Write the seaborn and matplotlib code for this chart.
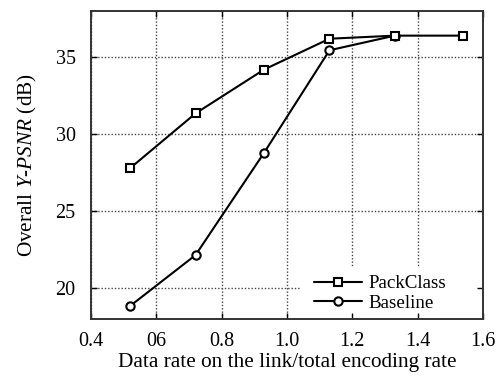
import matplotlib
matplotlib.use("Agg")
import matplotlib.pyplot as plt
from matplotlib.patches import Rectangle
import seaborn as sns
import pandas as pd

# Data
rates = [0.52, 0.72, 0.93, 1.13, 1.33, 1.54]
packclass = [27.8, 31.35, 34.2, 36.2, 36.4, 36.4]
baseline_rates = [0.52, 0.72, 0.93, 1.13, 1.33]
baseline = [18.85, 22.15, 28.8, 35.45, 36.4]
xticks = [0.4, 0.6, 0.8, 1.0, 1.2, 1.4, 1.6]
xticklabels = ["0.4", "06", "0.8", "1.0", "1.2", "1.4", "1.6"]
yticks = [20, 25, 30, 35]

sns.set_theme(style="white")
plt.rcParams["font.family"] = ["Liberation Serif", "DejaVu Serif"]
plt.rcParams["mathtext.fontset"] = "custom"
plt.rcParams["mathtext.rm"] = "Liberation Serif"
plt.rcParams["mathtext.it"] = "Liberation Serif:italic"
plt.rcParams["text.color"] = "black"
plt.rcParams["axes.labelcolor"] = "black"
plt.rcParams["xtick.color"] = "black"
plt.rcParams["ytick.color"] = "black"

W, H = 499, 381
L, R, T, B = 91, 483, 11, 319
pos = [L / W, 1 - B / H, (R - L) / W, (B - T) / H]

fig = plt.figure(figsize=(W / 100, H / 100), dpi=100)
ax = fig.add_axes(pos)
ax.set_axisbelow(True)

df_b = pd.DataFrame({"x": baseline_rates, "y": baseline})
df_p = pd.DataFrame({"x": rates, "y": packclass})

sns.lineplot(data=df_b, x="x", y="y", ax=ax, color="black", lw=1.5,
             marker="o", markersize=6, markerfacecolor="white",
             markeredgecolor="black", markeredgewidth=1.5, label="Baseline", zorder=3)
sns.lineplot(data=df_p, x="x", y="y", ax=ax, color="black", lw=1.5,
             marker="s", markersize=6, markerfacecolor="white",
             markeredgecolor="black", markeredgewidth=1.5, label="PackClass", zorder=4)

ax.set_xlim(0.4, 1.6)
ax.set_ylim(18, 38)
ax.set_xticks(xticks)
ax.set_xticklabels(xticklabels)
ax.set_yticks(yticks)
ax.grid(True, color="#444444", linestyle=(0, (1, 1.4)), linewidth=1.0)
ax.tick_params(length=0, labelsize=14.5)
ax.tick_params(axis="x", pad=9)
ax.tick_params(axis="y", pad=11)
for s in ax.spines.values():
    s.set_visible(False)

# white box behind the legend (covers grid there)
ax.add_patch(Rectangle(((300 - L) / (R - L), 0), 1 - (300 - L) / (R - L),
                       (B - 267) / (B - T), transform=ax.transAxes,
                       facecolor="white", edgecolor="none", zorder=1))

ax.set_xlabel("Data rate on the link/total encoding rate", fontsize=15.3, labelpad=2)
ax.set_ylabel("Overall $Y$-$PSNR$ (dB)", fontsize=15.3, labelpad=12)

handles, labels = ax.get_legend_handles_labels()
order = [labels.index("PackClass"), labels.index("Baseline")]
leg = ax.legend([handles[i] for i in order], [labels[i] for i in order],
                loc="lower left", bbox_to_anchor=((314 - L) / (R - L), (B - 312) / (B - T)),
                borderaxespad=0, borderpad=0, frameon=False, fontsize=13.7,
                handlelength=2.5, handletextpad=0.35, labelspacing=0.12)

# overlay axes for inward ticks and frame, drawn above the white box
axo = fig.add_axes(pos, facecolor="none", sharex=ax, sharey=ax)
axo.grid(False)
axo.tick_params(direction="in", length=4, width=1, top=True, right=True,
                bottom=True, left=True, labelbottom=False, labelleft=False)
for s in axo.spines.values():
    s.set_visible(True)
    s.set_color("#333333")
    s.set_linewidth(1.4)

fig.savefig("out.png", dpi=100)
